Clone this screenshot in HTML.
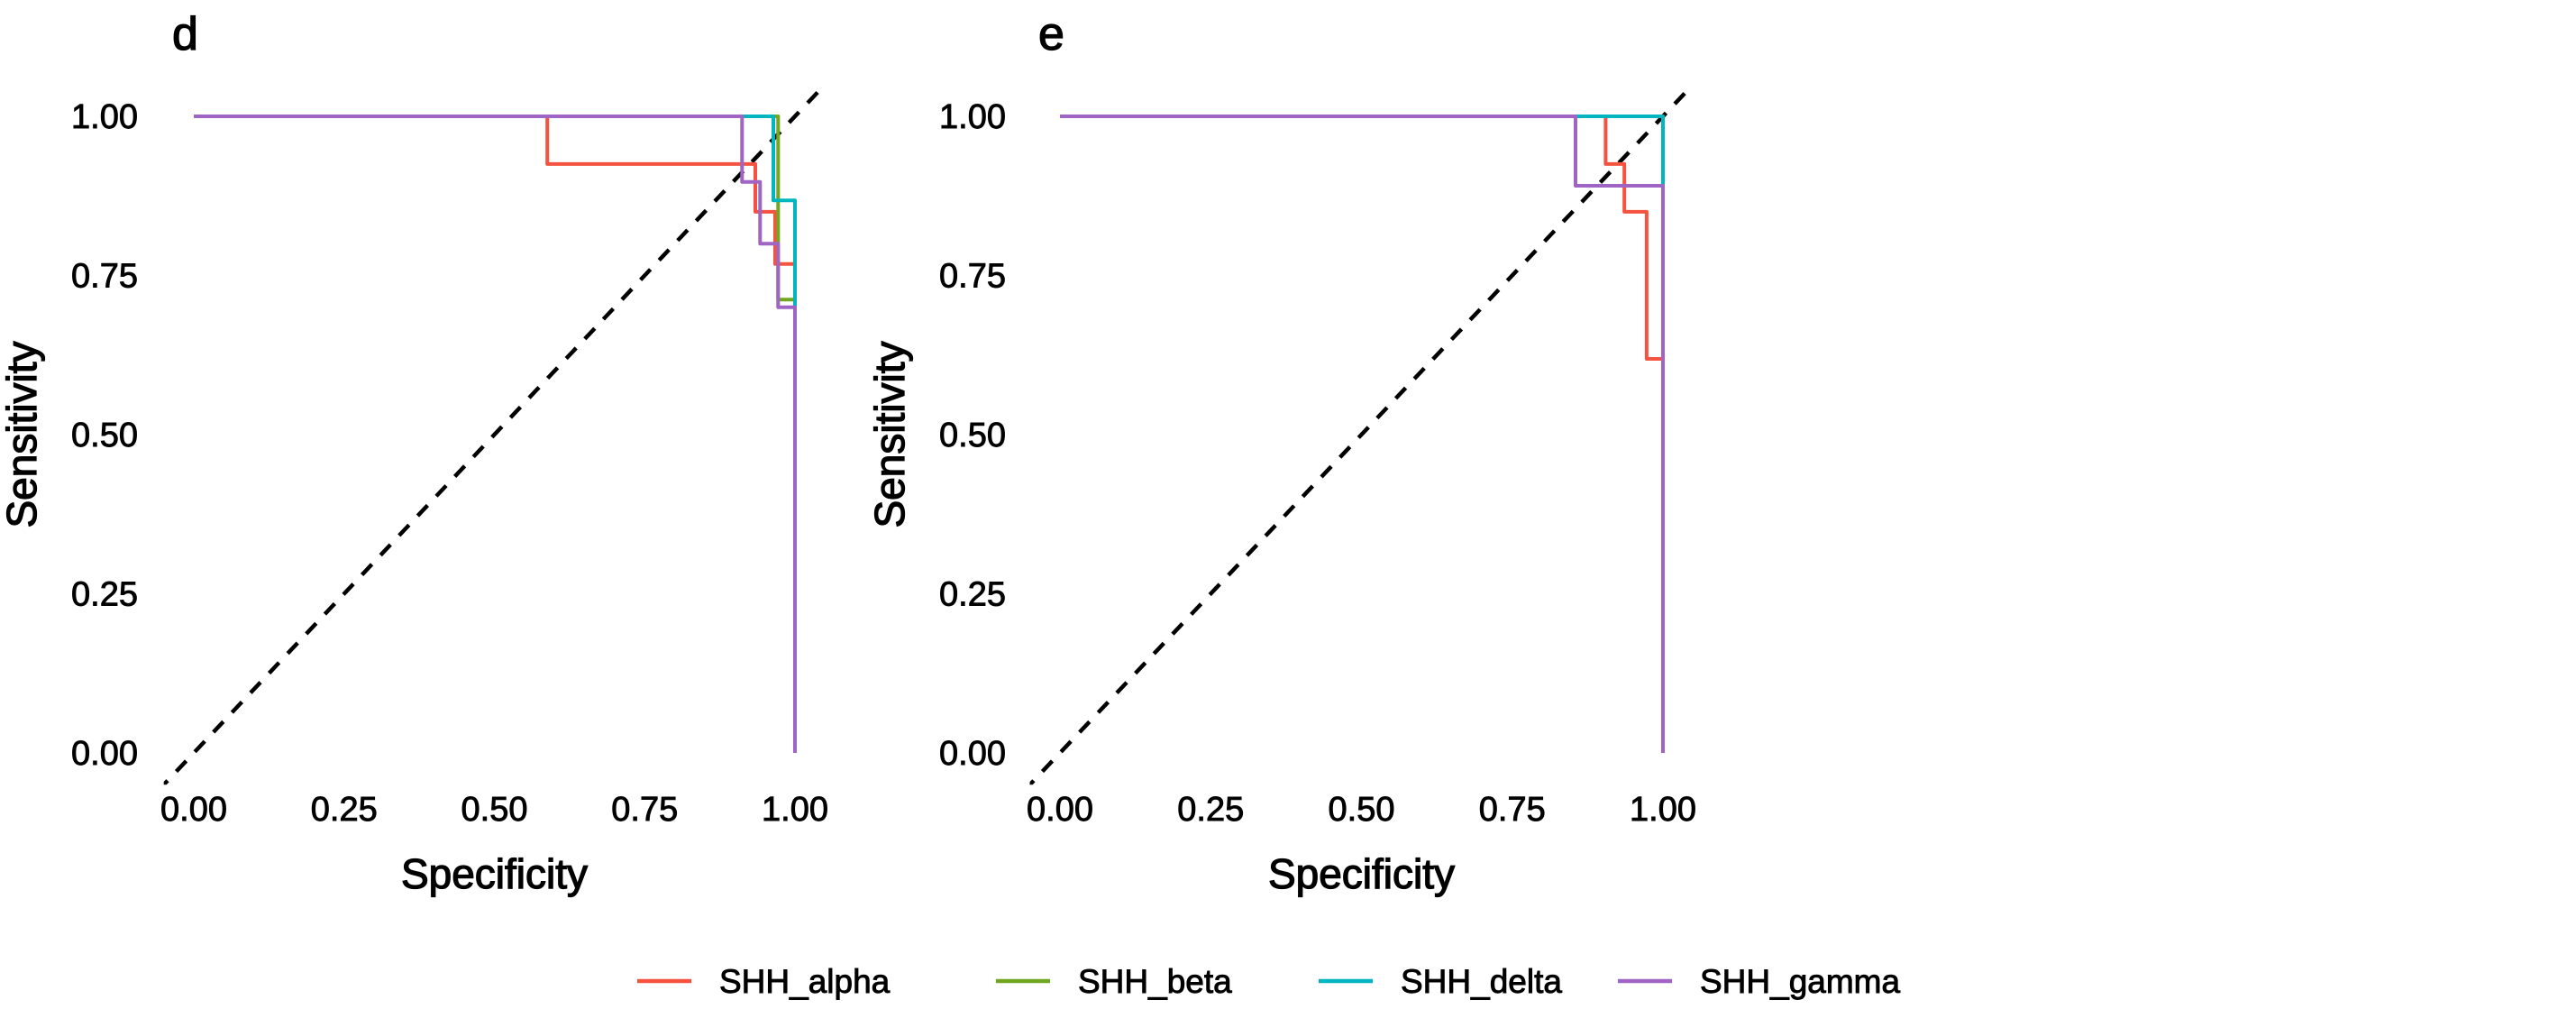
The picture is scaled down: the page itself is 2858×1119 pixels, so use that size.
<!DOCTYPE html>
<html><head><meta charset="utf-8"><style>
html,body{margin:0;padding:0;background:#fff;}
svg{display:block;font-family:"Liberation Sans",sans-serif;}
text{stroke:#000;stroke-width:0.9px;}
text.big{stroke-width:1.3px;}
</style></head><body>
<svg id="chart" width="2858" height="1119" viewBox="0 0 2858 1119"></svg>
<script>
const ticks = [0, 0.25, 0.5, 0.75, 1];
const tickLabels = ["0.00","0.25","0.50","0.75","1.00"];
const seriesNames = ["SHH_alpha","SHH_beta","SHH_delta","SHH_gamma"];
const seriesColors = ["#F5533F","#6FA81E","#00B5BE","#A064C4"];
// panel d step vertices (specificity, sensitivity)
const dAlphaSpec = [0, 0.588, 0.588, 0.934, 0.934, 0.967, 0.967, 1, 1];
const dAlphaSens = [1, 1, 0.925, 0.925, 0.85, 0.85, 0.768, 0.768, 0];
const dBetaSpec = [0, 0.972, 0.972, 1, 1];
const dBetaSens = [1, 1, 0.712, 0.712, 0];
const dDeltaSpec = [0, 0.964, 0.964, 1, 1];
const dDeltaSens = [1, 1, 0.868, 0.868, 0];
const dGammaSpec = [0, 0.912, 0.912, 0.942, 0.942, 0.972, 0.972, 1, 1];
const dGammaSens = [1, 1, 0.897, 0.897, 0.80, 0.80, 0.70, 0.70, 0];
// panel e
const eAlphaSpec = [0, 0.905, 0.905, 0.936, 0.936, 0.973, 0.973, 1, 1];
const eAlphaSens = [1, 1, 0.925, 0.925, 0.85, 0.85, 0.619, 0.619, 0];
const eBetaSpec = [0, 1, 1];
const eBetaSens = [1, 1, 0.891];
const eDeltaSpec = [0, 1, 1];
const eDeltaSens = [1, 1, 0.891];
const eGammaSpec = [0, 0.855, 0.855, 1, 1];
const eGammaSens = [1, 1, 0.891, 0.891, 0];

const NS = "http://www.w3.org/2000/svg";
const svg = document.getElementById("chart");
function mk(tag, attrs, parent) {
  const el = document.createElementNS(NS, tag);
  for (const k in attrs) el.setAttribute(k, attrs[k]);
  (parent || svg).appendChild(el);
  return el;
}
const panels = [
  {label:"d", x0:215, x1:882, labelX:191, yTitleX:40, yTickRight:153,
   data:[[dAlphaSpec,dAlphaSens],[dBetaSpec,dBetaSens],[dDeltaSpec,dDeltaSens],[dGammaSpec,dGammaSens]]},
  {label:"e", x0:1176, x1:1845, labelX:1152, yTitleX:1003, yTickRight:1116,
   data:[[eAlphaSpec,eAlphaSens],[eBetaSpec,eBetaSens],[eDeltaSpec,eDeltaSens],[eGammaSpec,eGammaSens]]}
];
const y0 = 835, y1 = 129;
panels.forEach((p, pi) => {
  const g = mk("g", {});
  
  
  const sx = v => p.x0 + v * (p.x1 - p.x0);
  const sy = v => y0 - v * (y0 - y1);
  const clipId = "clip" + pi;
  const cp = mk("clipPath", {id: clipId}, g);
  mk("rect", {x: sx(-0.05), y: sy(1.05), width: sx(1.05) - sx(-0.05), height: sy(-0.05) - sy(1.05)}, cp);
  const t = mk("text", {x: p.labelX, y: 55, "font-size": 52, fill: "#000", class: "big"}, g);
  t.textContent = p.label;
  
  
  ticks.forEach((v, i) => {
    const yl = mk("text", {x: p.yTickRight, y: sy(v) + 13, "font-size": 38, "text-anchor": "end", fill: "#000"}, g);
    yl.textContent = tickLabels[i];
    
    
    const xl = mk("text", {x: sx(v), y: 910, "font-size": 38, "text-anchor": "middle", fill: "#000"}, g);
    xl.textContent = tickLabels[i];
    
    
  });
  const xt = mk("text", {x: sx(0.5), y: 985, "font-size": 46, "text-anchor": "middle", fill: "#000", class: "big"}, g);
  xt.textContent = "Specificity";
  
  
  const yt = mk("text", {x: 0, y: 0, "font-size": 46, "text-anchor": "middle", fill: "#000", class: "big",
    transform: "translate(" + p.yTitleX + "," + sy(0.5) + ") rotate(-90)"}, g);
  yt.textContent = "Sensitivity";
  
  
  const plot = mk("g", {"clip-path": "url(#" + clipId + ")"}, g);
  const diag = mk("line", {x1: sx(-0.06), y1: sy(-0.06), x2: sx(1.06), y2: sy(1.06), stroke: "#000", "stroke-width": 4.5, "stroke-dasharray": "16 14"}, plot);
  
  
  p.data.forEach((s, si) => {
    const pts = s[0].map((x, k) => sx(x).toFixed(1) + "," + sy(s[1][k]).toFixed(1)).join(" ");
    const pl = mk("polyline", {points: pts, fill: "none", stroke: seriesColors[si], "stroke-width": 4, "stroke-linejoin": "round"}, plot);
    
    
  });
});
const legendLineX = [707, 1105, 1463, 1795];
const lg = mk("g", {});


seriesNames.forEach((n, i) => {
  const e = mk("g", {}, lg);
  
  
  mk("line", {x1: legendLineX[i], y1: 1088, x2: legendLineX[i] + 60, y2: 1088, stroke: seriesColors[i], "stroke-width": 4.5}, e);
  const tx = mk("text", {x: legendLineX[i] + 91, y: 1101, "font-size": 37, fill: "#000"}, e);
  tx.textContent = n;
});
</script>
</body></html>
